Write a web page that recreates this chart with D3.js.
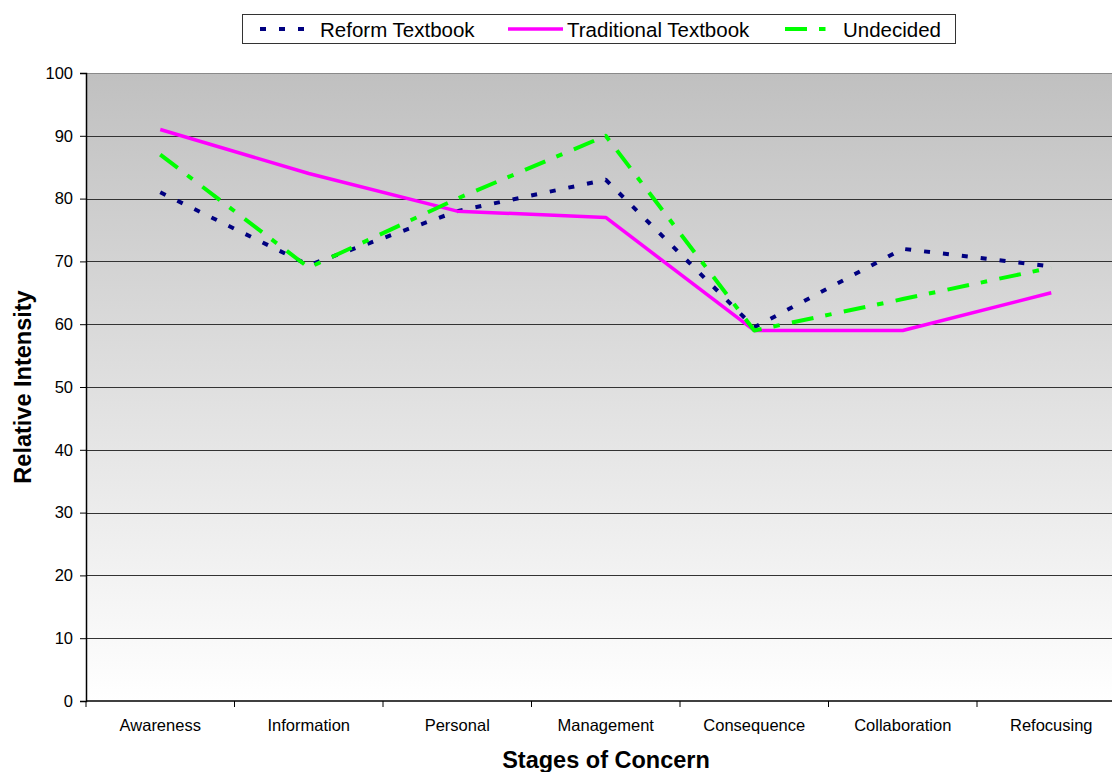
<!DOCTYPE html>
<html>
<head>
<meta charset="utf-8">
<script src="https://cdn.jsdelivr.net/npm/d3@7"></script>
<style>
  html, body { margin: 0; padding: 0; background: #fff; }
  svg { display: block; font-family: "Liberation Sans", Arial, sans-serif; }
</style>
</head>
<body>
<svg id="chart" width="1112" height="772"></svg>
<script>
// Stages of Concern profile for the three teacher groups
const stages = ["Awareness", "Information", "Personal", "Management", "Consequence", "Collaboration", "Refocusing"];
const reformValues      = [81, 69.4, 78, 83, 59.5, 72, 69.2];
const traditionalValues = [91, 84, 78, 77, 59, 59, 65];
const undecidedValues   = [87, 69, 80, 90, 59, 64, 69];
const yTickValues = [0, 10, 20, 30, 40, 50, 60, 70, 80, 90, 100];

const seriesList = [
  { name: "Reform Textbook",      values: reformValues,      color: "#000080", dash: "6,13",           width: 4 },
  { name: "Traditional Textbook", values: traditionalValues, color: "#ff00ff", dash: null,             width: 3.5 },
  { name: "Undecided",            values: undecidedValues,   color: "#00ff00", dash: "22,12,6.5,12.5", width: 4 }
];

const svg = d3.select("#chart");
const plotLeft = 86, plotTop = 73, plotBottom = 701, step = 148.5;
const plotRight = plotLeft + step * stages.length;

const x = d3.scaleBand().domain(stages).range([plotLeft, plotRight]).padding(0);
const y = d3.scaleLinear().domain([0, 100]).range([plotBottom, plotTop]);
const cx = d => x(d) + x.bandwidth() / 2;

// plot background: grey at the top fading to white at the bottom
const defs = svg.append("defs");
const grad = defs.append("linearGradient").attr("id", "bg")
  .attr("x1", 0).attr("y1", 0).attr("x2", 0).attr("y2", 1);
grad.append("stop").attr("offset", "0%").attr("stop-color", "#c0c0c0");
grad.append("stop").attr("offset", "100%").attr("stop-color", "#ffffff");

svg.append("rect")
  .attr("x", plotLeft).attr("y", plotTop)
  .attr("width", plotRight - plotLeft).attr("height", plotBottom - plotTop)
  .attr("fill", "url(#bg)");

// horizontal gridlines
svg.append("g").selectAll("line")
  .data(yTickValues.filter(v => v > 0))
  .join("line")
  .attr("x1", plotLeft).attr("x2", plotRight)
  .attr("y1", d => Math.round(y(d)) + 0.5).attr("y2", d => Math.round(y(d)) + 0.5)
  .attr("stroke", d => d === 100 ? "#8a8a8a" : "#333")
  .attr("stroke-width", 1.2);

// y axis
const yAxis = svg.append("g")
  .attr("transform", `translate(${plotLeft},0)`)
  .call(d3.axisLeft(y).tickValues(yTickValues).tickSize(6).tickPadding(7));
yAxis.select(".domain").attr("stroke", "#000").attr("stroke-width", 1.5);
yAxis.selectAll(".tick line").attr("stroke", "#000");
yAxis.selectAll(".tick text")
  .attr("font-family", "Liberation Sans, Arial, sans-serif")
  .attr("font-size", 16.5).attr("fill", "#000");

// x axis baseline, boundary ticks and category labels
svg.append("line")
  .attr("x1", plotLeft).attr("x2", plotRight)
  .attr("y1", plotBottom).attr("y2", plotBottom)
  .attr("stroke", "#000").attr("stroke-width", 1.5);
const bounds = stages.map(s => x(s));
svg.append("g").selectAll("line")
  .data(bounds)
  .join("line")
  .attr("x1", d => d).attr("x2", d => d)
  .attr("y1", plotBottom).attr("y2", plotBottom + 6)
  .attr("stroke", "#000").attr("stroke-width", 1);
svg.append("g").selectAll("text")
  .data(stages)
  .join("text")
  .attr("x", d => cx(d)).attr("y", 731)
  .attr("text-anchor", "middle")
  .attr("font-size", 16.5).attr("fill", "#000")
  .text(d => d);

// axis titles
svg.append("text")
  .attr("x", 606).attr("y", 768)
  .attr("text-anchor", "middle")
  .attr("font-size", 23.5).attr("font-weight", "bold").attr("fill", "#000")
  .text("Stages of Concern");
svg.append("text")
  .attr("transform", `translate(31,${(plotTop + plotBottom) / 2}) rotate(-90)`)
  .attr("text-anchor", "middle")
  .attr("font-size", 23.5).attr("font-weight", "bold").attr("fill", "#000")
  .text("Relative Intensity");

// data lines
const line = d3.line().x((d, i) => cx(stages[i])).y(d => y(d));
svg.append("g").selectAll("path")
  .data(seriesList)
  .join("path")
  .attr("d", d => line(d.values))
  .attr("fill", "none")
  .attr("stroke", d => d.color)
  .attr("stroke-width", d => d.width)
  .attr("stroke-dasharray", d => d.dash)
  .attr("stroke-linejoin", "round");

// legend
const legend = svg.append("g");
legend.append("rect")
  .attr("x", 242.5).attr("y", 14.5).attr("width", 713).attr("height", 29)
  .attr("fill", "#fff").attr("stroke", "#333").attr("stroke-width", 1);
const legendPos = [
  { x1: 260, x2: 307, tx: 320 },
  { x1: 508, x2: 563, tx: 567 },
  { x1: 785, x2: 828, tx: 843 }
];
seriesList.forEach((s, i) => {
  const p = legendPos[i];
  legend.append("line")
    .attr("x1", p.x1).attr("x2", p.x2).attr("y1", 29).attr("y2", 29)
    .attr("stroke", s.color).attr("stroke-width", s.width)
    .attr("stroke-dasharray", s.dash);
  legend.append("text")
    .attr("x", p.tx).attr("y", 37)
    .attr("font-size", 20.5).attr("fill", "#000")
    .text(s.name);
});
</script>
</body>
</html>
